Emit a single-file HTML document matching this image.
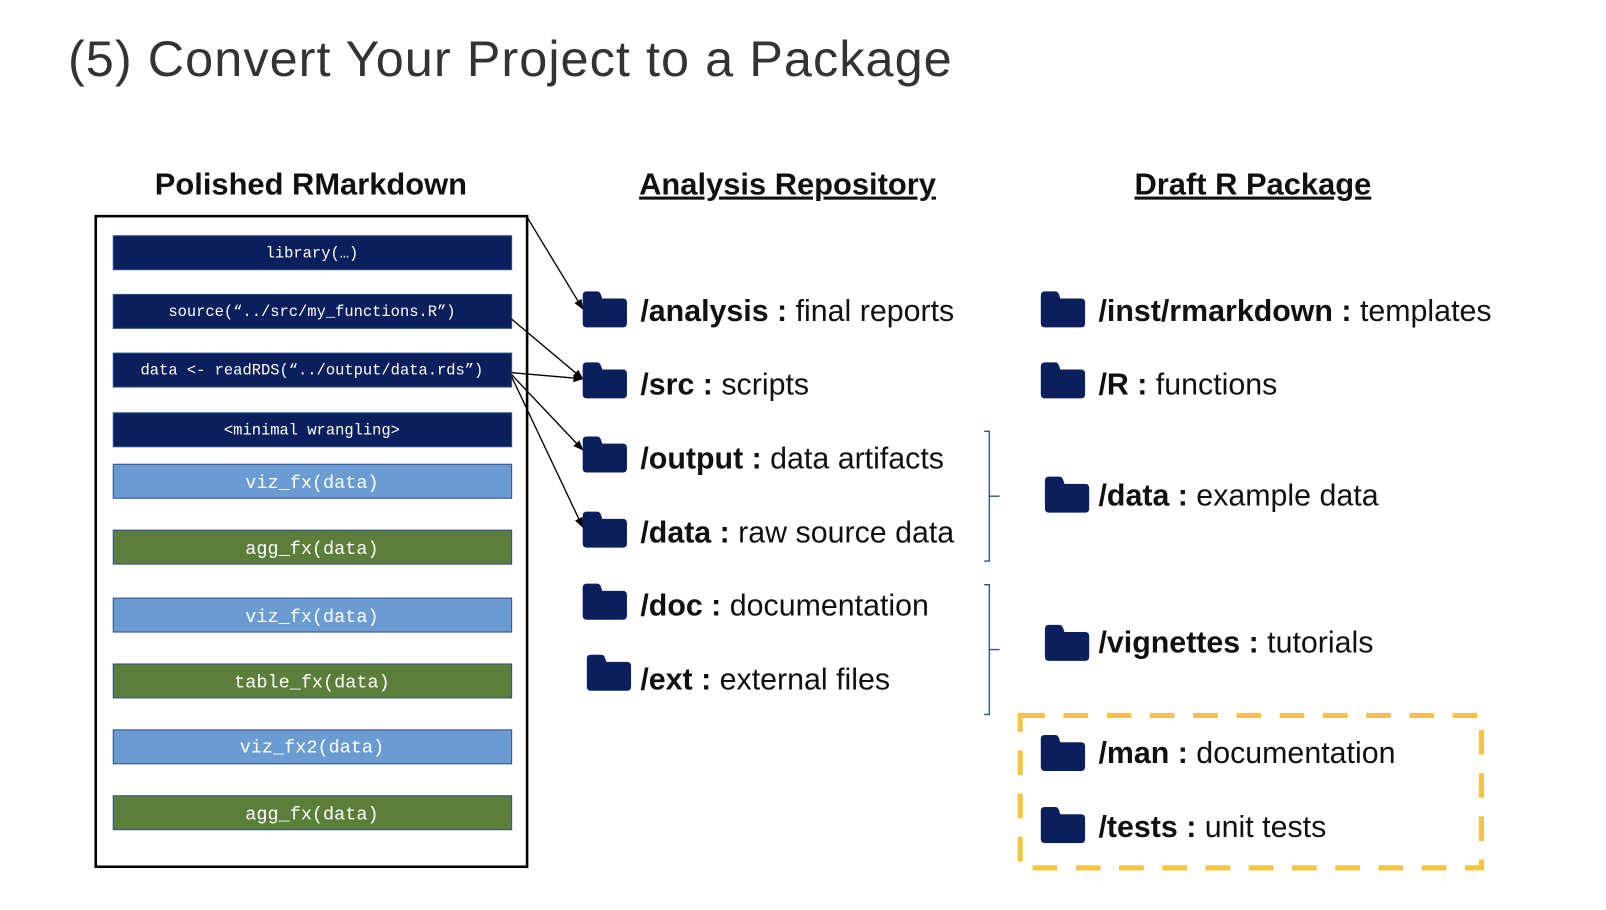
<!DOCTYPE html>
<html><head><meta charset="utf-8"><style>
html,body{margin:0;padding:0;background:#fff;}
svg{display:block;}
.t{font-family:"Liberation Sans",sans-serif;font-size:29.5px;fill:#111;}
.m{font-family:"Liberation Mono","DejaVu Sans Mono",monospace;fill:#fff;text-anchor:middle;}
</style></head><body>
<svg width="1606" height="910" viewBox="0 0 1560 884" preserveAspectRatio="none" xmlns="http://www.w3.org/2000/svg">
<defs>
<marker id="a" markerWidth="10" markerHeight="10" refX="9" refY="5" orient="auto" markerUnits="userSpaceOnUse"><path d="M0,1 L10,5 L0,9 z" fill="#000"/></marker>
<g id="f"><path d="M0,4 Q0,0 4,0 L14,0 Q17,0 18,4 L19,7 L39,7 Q43,7 43,11 L43,31 Q43,35 39,35 L4,35 Q0,35 0,31 Z" fill="#0b1f5c"/></g>
</defs>
<text x="66" y="74" font-family="Liberation Sans,sans-serif" font-size="49" letter-spacing="1" fill="#333">(5) Convert Your Project to a Package</text>
<g font-family="Liberation Sans,sans-serif" font-size="30" font-weight="bold" fill="#111" text-anchor="middle">
<text x="302" y="189">Polished RMarkdown</text>
<text x="765" y="189" text-decoration="underline">Analysis Repository</text>
<text x="1217" y="189" text-decoration="underline">Draft R Package</text>
</g>
<rect x="93" y="210" width="419" height="632" fill="none" stroke="#000" stroke-width="2.5"/>
<g stroke="#2f4f8f" stroke-width="1">
<rect x="110" y="229" width="387" height="33" fill="#0b1f5c"/>
<rect x="110" y="286" width="387" height="33" fill="#0b1f5c"/>
<rect x="110" y="343" width="387" height="33" fill="#0b1f5c"/>
<rect x="110" y="401" width="387" height="33" fill="#0b1f5c"/>
<rect x="110" y="451" width="387" height="33" fill="#6a9bd1"/>
<rect x="110" y="515" width="387" height="33" fill="#5b7f3a"/>
<rect x="110" y="581" width="387" height="33" fill="#6a9bd1"/>
<rect x="110" y="645" width="387" height="33" fill="#5b7f3a"/>
<rect x="110" y="709" width="387" height="33" fill="#6a9bd1"/>
<rect x="110" y="773" width="387" height="33" fill="#5b7f3a"/>
</g>
<g class="m" font-size="15">
<text x="303" y="250" class="m">library(…)</text>
<text x="303" y="307" class="m">source(“../src/my_functions.R”)</text>
<text x="303" y="364" class="m">data &lt;- readRDS(“../output/data.rds”)</text>
<text x="303" y="422" class="m">&lt;minimal wrangling&gt;</text>
</g>
<g class="m" font-size="18">
<text x="303" y="474" class="m">viz_fx(data)</text>
<text x="303" y="538" class="m">agg_fx(data)</text>
<text x="303" y="604" class="m">viz_fx(data)</text>
<text x="303" y="668" class="m">table_fx(data)</text>
<text x="303" y="731" class="m">viz_fx2(data)</text>
<text x="303" y="796" class="m">agg_fx(data)</text>
</g>
<g stroke="#000" stroke-width="1.3" fill="none" marker-end="url(#a)">
<line x1="512" y1="211" x2="566" y2="300"/>
<line x1="497" y1="310" x2="566" y2="368"/>
<line x1="497" y1="362" x2="566" y2="368"/>
<line x1="497" y1="364" x2="566" y2="437"/>
<line x1="497" y1="366" x2="566" y2="512"/>
</g>
<use href="#f" x="566" y="283"/>
<use href="#f" x="566" y="352"/>
<use href="#f" x="566" y="424"/>
<use href="#f" x="566" y="497"/>
<use href="#f" x="566" y="567"/>
<use href="#f" x="570" y="636"/>
<use href="#f" x="1011" y="283"/>
<use href="#f" x="1011" y="352"/>
<use href="#f" x="1015" y="463"/>
<use href="#f" x="1015" y="607"/>
<use href="#f" x="1011" y="714"/>
<use href="#f" x="1011" y="784"/>
<g class="t">
<text x="622" y="312"><tspan font-weight="bold">/analysis :</tspan> final reports</text>
<text x="622" y="383"><tspan font-weight="bold">/src :</tspan> scripts</text>
<text x="622" y="455"><tspan font-weight="bold">/output :</tspan> data artifacts</text>
<text x="622" y="527"><tspan font-weight="bold">/data :</tspan> raw source data</text>
<text x="622" y="598"><tspan font-weight="bold">/doc :</tspan> documentation</text>
<text x="622" y="670"><tspan font-weight="bold">/ext :</tspan> external files</text>
<text x="1067" y="312"><tspan font-weight="bold">/inst/rmarkdown :</tspan> templates</text>
<text x="1067" y="383"><tspan font-weight="bold">/R :</tspan> functions</text>
<text x="1067" y="491"><tspan font-weight="bold">/data :</tspan> example data</text>
<text x="1067" y="634"><tspan font-weight="bold">/vignettes :</tspan> tutorials</text>
<text x="1067" y="741"><tspan font-weight="bold">/man :</tspan> documentation</text>
<text x="1067" y="813"><tspan font-weight="bold">/tests :</tspan> unit tests</text>
</g>
<g stroke="#2f4f8f" stroke-width="1.3" fill="none">
<path d="M956,419 L961,419 L961,545 L956,545 M961,482 L971,482"/>
<path d="M956,568 L961,568 L961,694 L956,694 M961,631 L971,631"/>
</g>
<rect x="991" y="695" width="448" height="148" fill="none" stroke="#f5c342" stroke-width="5" stroke-dasharray="24 18"/>
</svg>
</body></html>
